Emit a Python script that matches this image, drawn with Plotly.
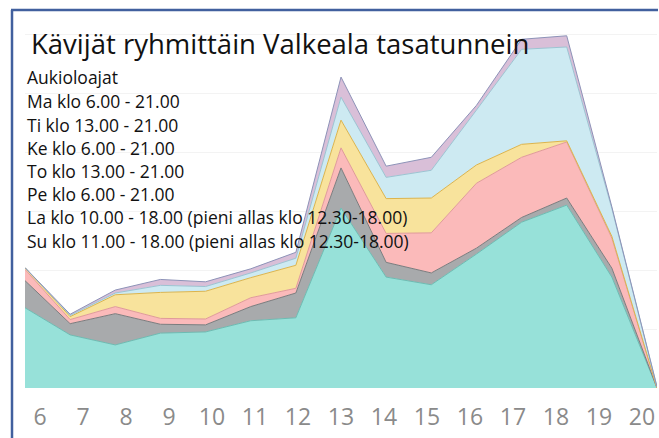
import plotly.graph_objects as go

# Hour of day (x) and visitor counts per group, stacked bottom to top
hours = [6, 7, 8, 9, 10, 11, 12, 13, 14, 15, 16, 17, 18, 19, 20]
group_1 = [13.6, 9.0, 7.3, 9.3, 9.5, 11.4, 11.9, 30.5, 18.8, 17.5, 22.7, 28.1, 31.0, 18.8, 0]
group_2 = [4.6, 1.9, 5.3, 1.5, 1.2, 2.4, 4.2, 6.8, 2.5, 2.0, 1.0, 0.8, 1.2, 1.5, 0]
group_3 = [1.9, 0.7, 1.2, 1.0, 1.0, 1.5, 0.8, 3.4, 4.9, 6.8, 11.0, 10.2, 9.5, 5.1, 0]
group_4 = [0.3, 0.5, 2.0, 4.4, 4.7, 3.4, 3.9, 4.7, 5.9, 5.9, 3.1, 2.2, 0.2, 0.3, 0]
group_5 = [0, 0.2, 0.3, 1.2, 0.8, 0.8, 1.2, 3.9, 3.6, 4.7, 9.3, 16.1, 15.9, 4.7, 0.2]
group_6 = [0, 0.2, 0.5, 1.0, 0.8, 0.7, 1.0, 3.4, 1.9, 2.2, 0.8, 1.7, 1.9, 0.3, 0]

series = [group_1, group_2, group_3, group_4, group_5, group_6]
fills = ["#97e1d9", "#a8aaac", "#fbbaba", "#f8e39c", "#cdeaf2", "#d9bfd8"]
edges = ["#6cbcb3", "#7a7c7e", "#e09a9a", "#dcb44c", "#9cc4d2", "#8d93b8"]

title_text = "Kävijät ryhmittäin Valkeala tasatunnein"
info_lines = [
    "Aukioloajat",
    "Ma klo 6.00 - 21.00",
    "Ti klo 13.00 - 21.00",
    "Ke klo 6.00 - 21.00",
    "To klo 13.00 - 21.00",
    "Pe klo 6.00 - 21.00",
    "La klo 10.00 - 18.00 (pieni allas klo 12.30-18.00)",
    "Su klo 11.00 - 18.00 (pieni allas klo 12.30-18.00)",
]

W, H = 659, 438
L, R, T, B = 25, 2, 30, 50
plot_w = W - L - R
plot_h = H - T - B


def px(x):
    return (x - L) / plot_w


def py(y):
    return (H - B - y) / plot_h


fig = go.Figure()
for vals, fc, lc in zip(series, fills, edges):
    fig.add_trace(go.Scatter(
        x=hours, y=vals, mode="lines", stackgroup="one",
        fillcolor=fc, line=dict(color=lc, width=1),
        showlegend=False, hoverinfo="skip",
    ))

font = "Open Sans"
annotations = [dict(
    text=title_text, xref="paper", yref="paper", x=px(29), y=py(43),
    xanchor="left", yanchor="middle", showarrow=False,
    font=dict(family=font, size=27.5, color="#111111"),
)]
line_y = [76, 100, 124, 147, 170, 193, 216, 240]
for txt, yy in zip(info_lines, line_y):
    annotations.append(dict(
        text=txt, xref="paper", yref="paper", x=px(25), y=py(yy + 1),
        xanchor="left", yanchor="middle", showarrow=False,
        font=dict(family=font, size=17.5, color="#111111"),
    ))

# hour labels sit on a second x axis spread between x=40 and x=642
span = 14 * plot_w / (642 - 40)
r0 = 6 - (40 - L) / plot_w * span
r1 = r0 + span

fig.update_layout(
    width=W, height=H,
    margin=dict(l=L, r=R, t=T, b=B),
    paper_bgcolor="white", plot_bgcolor="white",
    xaxis=dict(range=[6, 20], showticklabels=False, showgrid=False,
               zeroline=False, showline=False, fixedrange=True),
    xaxis2=dict(range=[r0, r1], overlaying="x", side="bottom", anchor="y",
                tickvals=hours, ticktext=[str(h) for h in hours],
                showgrid=False, zeroline=False, showline=False, ticks="",
                ticklabelstandoff=13, fixedrange=True,
                tickfont=dict(family=font, size=23, color="#8a8a8a")),
    yaxis=dict(range=[0, plot_h / 5.9], dtick=10, showticklabels=False,
               showgrid=True, gridcolor="#f3f3f3", gridwidth=1,
               zeroline=False, showline=False, fixedrange=True),
    annotations=annotations,
    shapes=[
        dict(type="line", xref="paper", yref="paper",
             x0=px(12), x1=px(12), y0=py(H + 5), y1=py(10),
             line=dict(color="#41609e", width=2.5), layer="above"),
        dict(type="line", xref="paper", yref="paper",
             x0=px(11), x1=px(W - 1), y0=py(10), y1=py(10),
             line=dict(color="#41609e", width=2.5), layer="above"),
    ],
)

fig.add_trace(go.Scatter(x=[None], y=[None], xaxis="x2", showlegend=False,
                         hoverinfo="skip"))

fig.write_html("out.html", config={"displayModeBar": False})
